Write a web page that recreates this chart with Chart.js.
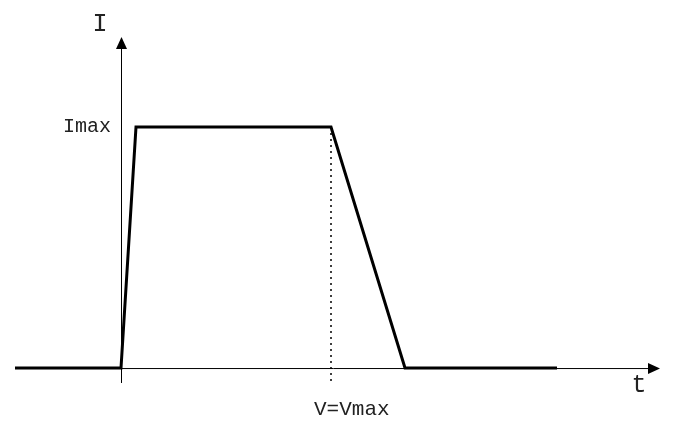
<!DOCTYPE html>
<html>
<head>
<meta charset="utf-8">
<script src="https://cdn.jsdelivr.net/npm/chart.js@4.4.0/dist/chart.umd.min.js"></script>
<style>
  html, body { margin: 0; padding: 0; background: #fff; }
  #wrap { width: 676px; height: 430px; }
</style>
</head>
<body>
<div id="wrap"><canvas id="chart"></canvas></div>
<script>
// current pulse: time values and current values (Imax = 1)
var times = [-1.06, 0, 0.15, 2.1, 2.84, 4.36];
var currents = [0, 0, 1, 1, 0, 0];

// dotted marker at V = Vmax
var markerTime = 2.1;
var markerRange = [1, -0.062];

// axis extents
var xAxisRange = [-1.06, 5.39];
var yAxisRange = [-0.062, 1.373];

var monoFamily = '"Liberation Mono", "DejaVu Sans Mono", monospace';

var axesPlugin = {
    id: 'arrowAxes',
    beforeDatasetsDraw: function (chart) {
        var ctx = chart.ctx;
        var xs = chart.scales.x;
        var ys = chart.scales.y;
        var x0 = xs.getPixelForValue(0);
        var y0 = ys.getPixelForValue(0);

        ctx.save();
        ctx.strokeStyle = '#000';
        ctx.fillStyle = '#000';
        ctx.lineWidth = 1;

        // x axis
        var xa = xs.getPixelForValue(xAxisRange[0]);
        var xb = xs.getPixelForValue(xAxisRange[1]);
        ctx.beginPath();
        ctx.moveTo(xa, y0 + 0.5);
        ctx.lineTo(xb - 8, y0 + 0.5);
        ctx.stroke();
        ctx.beginPath();
        ctx.moveTo(xb, y0 + 0.5);
        ctx.lineTo(xb - 12, y0 - 5);
        ctx.lineTo(xb - 12, y0 + 6);
        ctx.closePath();
        ctx.fill();

        // y axis
        var ya = ys.getPixelForValue(yAxisRange[0]);
        var yb = ys.getPixelForValue(yAxisRange[1]);
        ctx.beginPath();
        ctx.moveTo(x0 + 0.5, ya);
        ctx.lineTo(x0 + 0.5, yb + 8);
        ctx.stroke();
        ctx.beginPath();
        ctx.moveTo(x0 + 0.5, yb);
        ctx.lineTo(x0 - 5, yb + 12);
        ctx.lineTo(x0 + 6, yb + 12);
        ctx.closePath();
        ctx.fill();
        ctx.restore();
    },
    afterDraw: function (chart) {
        var ctx = chart.ctx;
        var xs = chart.scales.x;
        var ys = chart.scales.y;
        ctx.save();
        ctx.fillStyle = '#222';
        ctx.textBaseline = 'middle';

        ctx.font = '20px ' + monoFamily;
        ctx.textAlign = 'right';
        ctx.fillText('Imax', xs.getPixelForValue(0) - 10, ys.getPixelForValue(1));

        ctx.font = '21px ' + monoFamily;
        ctx.textAlign = 'left';
        ctx.fillText('V=Vmax', xs.getPixelForValue(markerTime) - 17, ys.getPixelForValue(0) + 41);

        ctx.font = '25px ' + monoFamily;
        ctx.textAlign = 'center';
        ctx.fillText('I', xs.getPixelForValue(0) - 21, 24);
        ctx.fillText('t', xs.getPixelForValue(5.18), ys.getPixelForValue(0) + 17);
        ctx.restore();
    }
};

var pulse = times.map(function (t, i) { return { x: t, y: currents[i] }; });
var marker = markerRange.map(function (v) { return { x: markerTime, y: v }; });

new Chart(document.getElementById('chart'), {
    type: 'line',
    data: {
        datasets: [
            {
                data: pulse,
                borderColor: '#000',
                borderWidth: 3,
                pointRadius: 0,
                tension: 0,
                fill: false
            },
            {
                data: marker,
                borderColor: '#000',
                borderWidth: 1.5,
                borderDash: [2, 4],
                pointRadius: 0,
                fill: false
            }
        ]
    },
    options: {
        responsive: true,
        maintainAspectRatio: false,
        animation: false,
        layout: { padding: 0 },
        plugins: {
            legend: { display: false },
            tooltip: { enabled: false }
        },
        scales: {
            x: { type: 'linear', display: false, min: -1.21, max: 5.55 },
            y: { type: 'linear', display: false, min: -0.257, max: 1.527 }
        }
    },
    plugins: [axesPlugin]
});
</script>
</body>
</html>
